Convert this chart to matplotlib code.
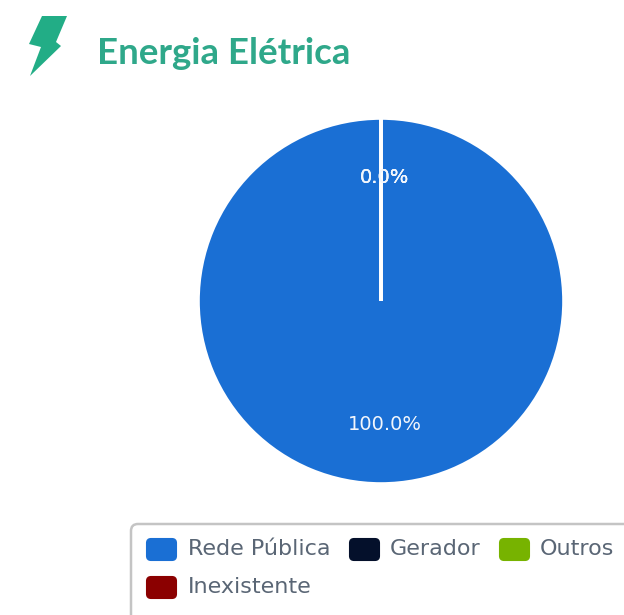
import matplotlib
matplotlib.use('Agg')
import matplotlib.pyplot as plt
from matplotlib.patches import FancyBboxPatch, Polygon

labels = ['Rede Pública', 'Gerador', 'Outros', 'Inexistente']
values = [100.0, 0.0, 0.0, 0.0]
colors = ['#1a6fd4', '#04102b', '#77b300', '#8b0000']
title = 'Energia Elétrica'

W, H = 624, 615
fig = plt.figure(figsize=(W / 100, H / 100), dpi=100, facecolor='white')

# overlay in pixel coords for title, icon and legend box
bg = fig.add_axes([0, 0, 1, 1])
bg.set_xlim(0, W)
bg.set_ylim(H, 0)
bg.axis('off')

# lightning icon
bolt = [(42, 16), (67, 16), (56, 42), (61, 46), (30, 76), (41, 47), (29, 44)]
bg.add_patch(Polygon(bolt, closed=True, facecolor='#22ad86', edgecolor='none'))
bg.text(97, 54, title, fontsize=26.4, fontweight='bold', family='Lato',
        color='#2fa88a', va='center', ha='left')

# pie
cx, cy, r = 381, 301, 183
ax = fig.add_axes([(cx - r) / W, 1 - (cy + r) / H, 2 * r / W, 2 * r / H])
wedges, texts, autotexts = ax.pie(values, colors=colors, startangle=90, counterclock=False,
                                  autopct='%1.1f%%', pctdistance=0.675,
                                  wedgeprops={'edgecolor': 'white', 'linewidth': 2.6},
                                  textprops={'color': '#f2f6fc', 'fontsize': 14})
ax.set_xlim(-1, 1)
ax.set_ylim(-1, 1)
for w in wedges:
    w.set_clip_on(False)
for t in autotexts:
    t.set_x(t.get_position()[0] + 0.02)

# legend box runs off the right and bottom edge
bg.add_patch(FancyBboxPatch((131, 524), 540, 140, boxstyle='round,pad=0,rounding_size=7',
                            facecolor='white', edgecolor='#c4c4c4', linewidth=1.8))
rows = [(146, 188, 549), (349, 390, 549), (499, 540, 549), (146, 188, 587)]
for (sx, tx, ty), name, col in zip(rows, labels, colors):
    bg.add_patch(FancyBboxPatch((sx + 1, ty - 10), 29, 21, boxstyle='round,pad=0,rounding_size=4',
                                facecolor=col, edgecolor=col, linewidth=1.5))
    bg.text(tx, ty, name, fontsize=16, color='#5a6675', va='center', ha='left')

fig.savefig('out.png', dpi=100)
